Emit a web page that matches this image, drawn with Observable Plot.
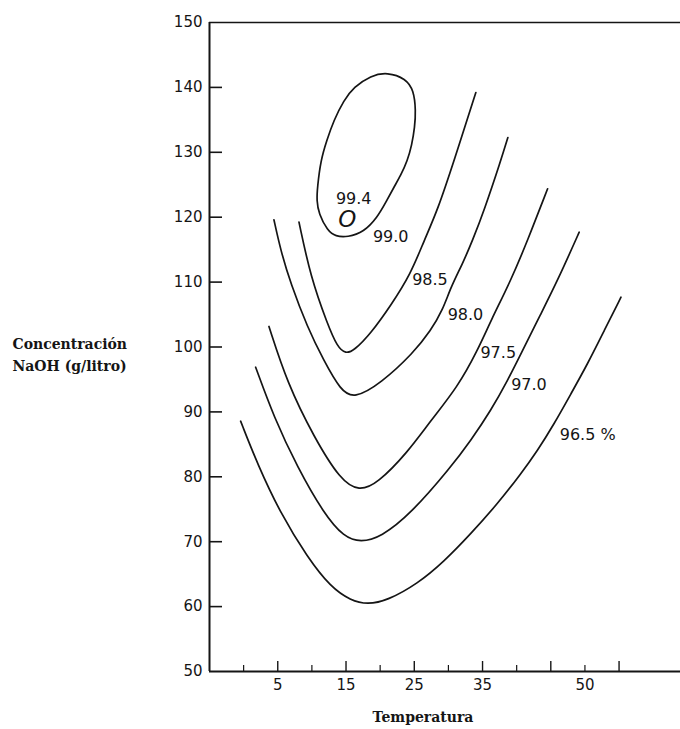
<!DOCTYPE html>
<html>
<head>
<meta charset="utf-8">
<script src="https://cdn.jsdelivr.net/npm/d3@7"></script>
<script src="https://cdn.jsdelivr.net/npm/@observablehq/plot@0.6"></script>
<style>
  html, body { margin: 0; padding: 0; background: #fff; }
</style>
</head>
<body>
<div id="chart"></div>
<script>
// ---- Data: contour lines as [temperature, NaOH concentration] pairs ----
const curve994 = [[21.07,142.34],[23.75,141.37],[24.93,139.52],[25.22,136.44],[25.07,133.87],[24.63,131.05],[24.0,128.74],[23.02,126.43],[21.99,124.58],[20.82,122.27],[19.6,120.0],[17.6,117.69],[15.21,116.92],[13.49,117.03],[12.27,117.95],[11.0,120.57],[10.7,122.57],[10.81,124.62],[11.29,128.74],[12.17,131.82],[13.2,134.9],[14.66,137.98],[16.13,140.03],[18.62,141.83]];
const curve990 = [[8.11,119.23],[9.82,110.76],[12.27,103.57],[13.74,99.97],[14.96,98.95],[16.17,99.46],[18.62,102.08],[21.55,106.39],[24.49,111.28],[26.44,116.41],[28.4,121.03],[30.84,128.74],[34.02,139.21]];
const curve985 = [[4.44,119.6],[5.43,114.87],[6.89,109.78],[9.34,103.05],[11.73,97.92],[14.22,93.3],[16.17,92.02],[20.09,94.38],[24.93,99.15],[27.42,102.54],[29.13,105.62],[30.35,109.21],[32.07,112.82],[33.53,116.41],[35.23,121.03],[37.68,128.74],[38.71,132.28]];
const curve980 = [[3.71,103.16],[6.41,94.38],[10.31,86.1],[14.22,79.43],[16.91,77.78],[19.6,78.97],[24.0,83.74],[27.42,88.67],[31.33,93.81],[34.27,99.46],[36.22,104.08],[39.15,110.25],[41.6,116.41],[44.53,124.38]];
const curve975 = [[1.76,96.89],[4.44,89.18],[7.87,81.48],[11.77,74.3],[14.71,70.69],[17.16,69.92],[20.09,70.69],[24.49,74.3],[30.35,81.48],[33.28,85.59],[36.22,90.22],[38.67,94.84],[40.62,98.95],[43.55,105.12],[46.0,110.25],[49.16,117.69]];
const curve970 = [[-0.44,88.57],[2.01,82.0],[5.43,74.3],[9.34,67.61],[12.76,62.99],[15.69,60.94],[18.14,60.32],[21.07,60.94],[25.47,63.51],[29.37,66.95],[33.28,71.22],[37.2,75.84],[40.62,80.46],[43.06,84.05],[45.5,88.17],[47.95,92.79],[50.4,97.41],[52.83,102.54],[55.28,107.67]];

// contour labels (text and where they sit, in data units)
const labelText = ["99.4", "99.0", "98.5", "98.0", "97.5", "97.0", "96.5 %"];
const labelTemp = [16.13, 21.55, 27.3, 32.5, 37.3, 41.8, 50.4];
const labelConc = [122.9, 116.9, 110.4, 105.0, 99.1, 94.2, 86.5];
// optimum marker
const optimumTemp = [15.2];
const optimumConc = [119.6];

// axes
const xDomain = [-5, 64];
const yDomain = [50, 150];
const xMajorTicks = [5, 15, 25, 35, 45, 55];
const xMinorTicks = [0, 10, 20, 30, 40, 50];
const xTickLabels = [5, 15, 25, 35, 50];
const yTickMarks = [60, 70, 80, 90, 100, 110, 120, 130, 140];
const yTickLabels = [50, 60, 70, 80, 90, 100, 110, 120, 130, 140, 150];
const xTitle = "Temperatura";
const yTitle = "Concentración\nNaOH (g/litro)";

const labels = labelText.map((t, i) => ({text: t, x: labelTemp[i], y: labelConc[i]}));
const optimum = optimumTemp.map((t, i) => ({x: t, y: optimumConc[i]}));

const openCurves = [curve990, curve985, curve980, curve975, curve970];
const ink = "#151515";

const W = 680, ML = 209, MR = 0;
const pxPerX = (W - ML - MR) / (xDomain[1] - xDomain[0]);
const yTickLen = 13 / pxPerX; // inward tick length expressed in x units

const chart = Plot.plot({
  width: W,
  height: 729,
  marginLeft: ML,
  marginRight: MR,
  marginTop: 22,
  marginBottom: 58,
  style: {fontFamily: "DejaVu Sans", fontSize: "15px", color: ink, background: "#fff"},
  x: {domain: xDomain, label: null},
  y: {domain: yDomain, label: null},
  marks: [
    // frame lines
    Plot.ruleX([xDomain[0]], {stroke: ink, strokeWidth: 2}),
    Plot.ruleY([yDomain[1]], {stroke: ink, strokeWidth: 1.6}),
    Plot.ruleY([yDomain[0]], {stroke: ink, strokeWidth: 2}),
    // inward y ticks
    Plot.ruleY(yTickMarks, {y: d => d, x1: xDomain[0], x2: xDomain[0] + yTickLen, stroke: ink, strokeWidth: 1.6}),
    // y labels
    Plot.axisY({anchor: "left", ticks: yTickLabels, tickSize: 0, tickPadding: 7, label: null, fontSize: 15, fill: ink}),
    // upward x ticks
    Plot.axisX({anchor: "bottom", ticks: xMajorTicks, tickSize: 10, dy: -10, text: null, label: null, strokeWidth: 1.4, stroke: ink}),
    Plot.axisX({anchor: "bottom", ticks: xMinorTicks, tickSize: 6, dy: -6, text: null, label: null, strokeWidth: 1.2, stroke: ink}),
    Plot.axisX({anchor: "bottom", ticks: xTickLabels, tickSize: 0, tickPadding: 8, label: null, fontSize: 15, fill: ink}),
    // contour curves
    Plot.line(curve994, {x: d => d[0], y: d => d[1], curve: "basis-closed", stroke: ink, strokeWidth: 1.7}),
    ...openCurves.map(c => Plot.line(c, {x: d => d[0], y: d => d[1], curve: "basis", stroke: ink, strokeWidth: 1.7})),
    // contour labels
    Plot.text(labels, {x: "x", y: "y", text: "text", fontSize: 16, fill: ink, fontFamily: "DejaVu Sans"}),
    Plot.text(optimum, {x: "x", y: "y", text: () => "O", fontSize: 23, fontStyle: "italic", fill: ink, fontFamily: "DejaVu Sans"}),
    // axis titles
    Plot.text([xTitle], {text: d => d, frameAnchor: "bottom", dx: -22, dy: 50, fontFamily: "DejaVu Serif", fontWeight: "bold", fontSize: 14, fill: ink}),
    Plot.text([yTitle], {text: d => d, frameAnchor: "left", textAnchor: "start", dx: -197, dy: 6, lineHeight: 1.6, fontFamily: "DejaVu Serif", fontWeight: "bold", fontSize: 14, fill: ink})
  ]
});
document.getElementById("chart").appendChild(chart);
</script>
</body>
</html>
